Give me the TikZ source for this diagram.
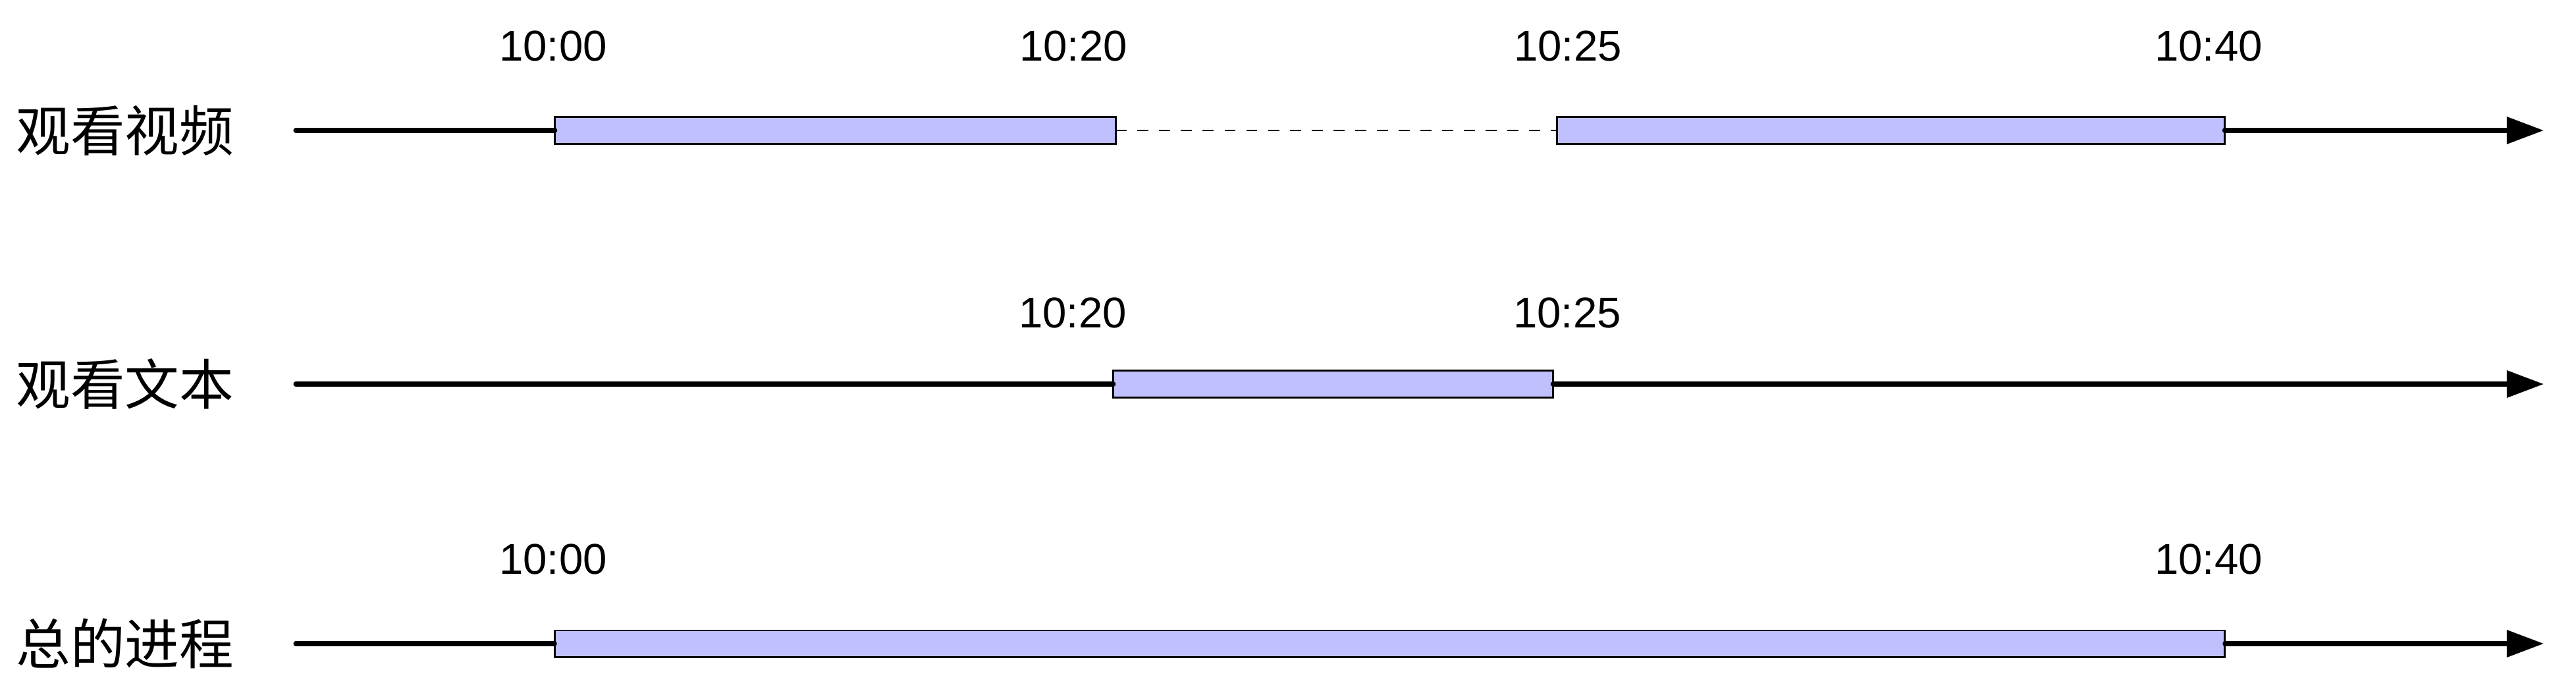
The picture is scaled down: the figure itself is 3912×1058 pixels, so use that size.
\documentclass[tikz,border=0pt]{standalone}
\usepackage{fontspec}
\setmainfont{Liberation Sans}
\newfontfamily\cjk{Noto Sans CJK SC}
\usetikzlibrary{arrows.meta}
\definecolor{barfill}{RGB}{192,192,255}
\tikzset{
  timeline/.style={line width=2pt, line cap=round, -{Triangle[length=16pt,width=11.4pt]}},
  axisseg/.style={line width=2pt, line cap=round},
  barbox/.style={draw=black, fill=barfill, line width=0.85pt, minimum height=0.40cm, inner sep=0pt, outer sep=0pt},
  gapline/.style={draw=black, line width=0.75pt, dash pattern=on 4.8pt off 4.6pt},
  timelabel/.style={inner sep=0pt, font=\fontsize{18.6pt}{20pt}\selectfont},
  rowlabel/.style={inner sep=0pt, anchor=west, font=\cjk\fontsize{23.5pt}{26pt}\selectfont}
}
\begin{document}
\begin{tikzpicture}[x=0.01cm,y=-0.01cm]
\useasboundingbox (0,0) rectangle (3912,1058);
% row labels
\node[rowlabel] (l1) at (24,198) {观看视频};
\node[rowlabel] (l2) at (24,583) {观看文本};
\node[rowlabel] (l3) at (24,977) {总的进程};
% axis end points
\coordinate (s1) at (449,198); \coordinate (e1) at (3863,198);
\coordinate (s2) at (449,583); \coordinate (e2) at (3863,583);
\coordinate (s3) at (449,977); \coordinate (e3) at (3863,977);
% bars
\node[barbox, minimum width=8.51cm] (b11) at (1268.5,198) {};
\node[barbox, minimum width=10.13cm] (b12) at (2871.5,198) {};
\node[barbox, minimum width=6.67cm] (b21) at (2024.5,583) {};
\node[barbox, minimum width=25.35cm] (b31) at (2110.5,977) {};
% axes
\draw[axisseg] (s1) -- (b11.west);
\draw[gapline] (b11.east) -- (b12.west);
\draw[timeline] (b12.east) -- (e1);
\draw[axisseg] (s2) -- (b21.west);
\draw[timeline] (b21.east) -- (e2);
\draw[axisseg] (s3) -- (b31.west);
\draw[timeline] (b31.east) -- (e3);
% time labels
\node[timelabel] (t11) at (840,70) {10:00};
\node[timelabel] (t12) at (1630,70) {10:20};
\node[timelabel] (t13) at (2381,70) {10:25};
\node[timelabel] (t14) at (3354,70) {10:40};
\node[timelabel] (t21) at (1629,475) {10:20};
\node[timelabel] (t22) at (2380,475) {10:25};
\node[timelabel] (t31) at (840,849) {10:00};
\node[timelabel] (t32) at (3354,849) {10:40};
\end{tikzpicture}
\end{document}
